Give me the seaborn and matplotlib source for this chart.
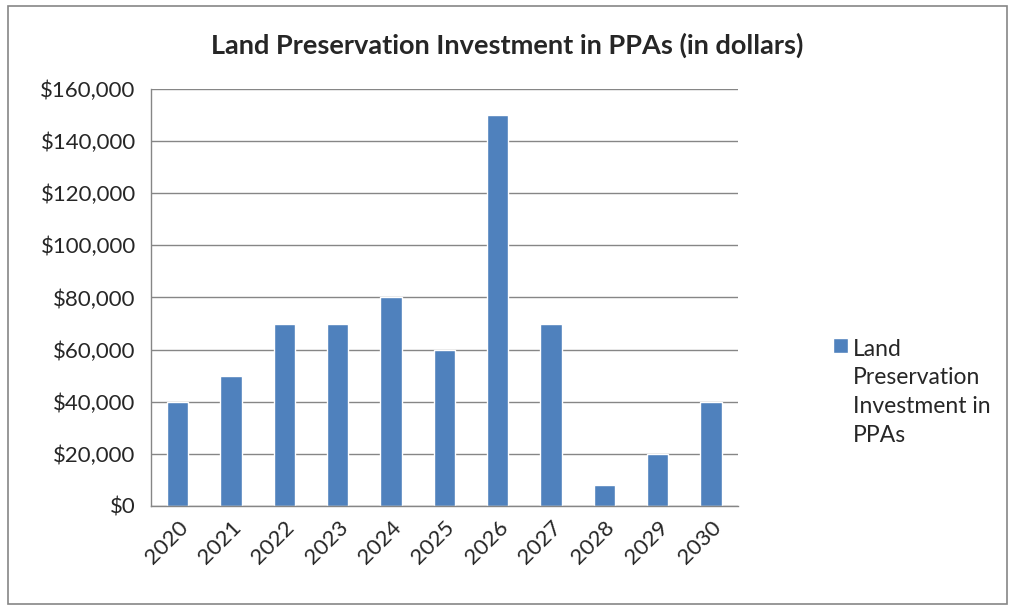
import matplotlib
matplotlib.use("Agg")
import matplotlib.pyplot as plt
from matplotlib.ticker import FuncFormatter, FixedLocator
from matplotlib.patches import Rectangle
from matplotlib.legend_handler import HandlerPatch
import seaborn as sns
import pandas as pd

# data
years = ["2020", "2021", "2022", "2023", "2024", "2025", "2026", "2027", "2028", "2029", "2030"]
investment = [40000, 50000, 70000, 70000, 80000, 60000, 150000, 70000, 8000, 20000, 40000]
series_name = "Land Preservation Investment in PPAs"

df = pd.DataFrame({"year": years, "investment": investment})

sns.set_style("white")
plt.rcParams["font.family"] = ["Lato", "DejaVu Sans"]

fig = plt.figure(figsize=(10.15, 6.08), dpi=100)
ax = fig.add_axes([0.1488, 0.1678, 0.578, 0.6858])

sns.barplot(data=df, x="year", y="investment", color="#4F81BD", width=0.4,
            saturation=1, ax=ax, label=series_name)

ax.set_ylim(0, 160000)
ax.set_xlim(-0.5, len(years) - 0.5)
ax.yaxis.set_major_locator(FixedLocator(range(0, 160001, 20000)))
ax.yaxis.set_major_formatter(FuncFormatter(lambda v, p: f"${v:,.0f}"))
ax.grid(axis="y", color="#868686", linewidth=1)
ax.set_axisbelow(True)
ax.set_xlabel("")
ax.set_ylabel("")

for s in ["top", "right"]:
    ax.spines[s].set_visible(False)
for s in ["left", "bottom"]:
    ax.spines[s].set_color("#868686")
    ax.spines[s].set_linewidth(1)

# excel style ticks between categories
ax.xaxis.set_minor_locator(FixedLocator([i - 0.5 for i in range(len(years) + 1)]))
ax.tick_params(axis="x", which="major", length=0, labelsize=16, pad=8)
ax.tick_params(axis="x", which="minor", length=6, color="#868686", width=1, direction="out")
ax.tick_params(axis="y", length=6, color="#868686", width=1, direction="out", labelsize=16, pad=5)
plt.setp(ax.get_xticklabels(), rotation=45, ha="right", rotation_mode="anchor")

fig.text(0.5, 0.926, "Land Preservation Investment in PPAs (in dollars)",
         ha="center", va="center", fontsize=19.5, fontweight="bold")


# legend marker sits next to the first line of the wrapped label
def top_square(legend, orig_handle, xdescent, ydescent, width, height, fontsize):
    return Rectangle((-xdescent, -ydescent + 2.05 * fontsize), width, height)


leg = ax.legend(handles=ax.patches[:1], labels=["Land\nPreservation\nInvestment in\nPPAs"],
                loc="upper left", bbox_to_anchor=(0.812, 0.458), bbox_transform=fig.transFigure,
                frameon=False, fontsize=16.5, handlelength=0.65, handleheight=0.65,
                handletextpad=0.2, borderaxespad=0,
                handler_map={Rectangle: HandlerPatch(patch_func=top_square)})
for t in leg.get_texts():
    t.set_linespacing(1.45)

# outer chart border
fig.patches.append(Rectangle((0.008, 0.006), 0.984, 0.984, transform=fig.transFigure,
                             fill=False, edgecolor="#868686", linewidth=1.2))

fig.savefig("out.png", dpi=100)
